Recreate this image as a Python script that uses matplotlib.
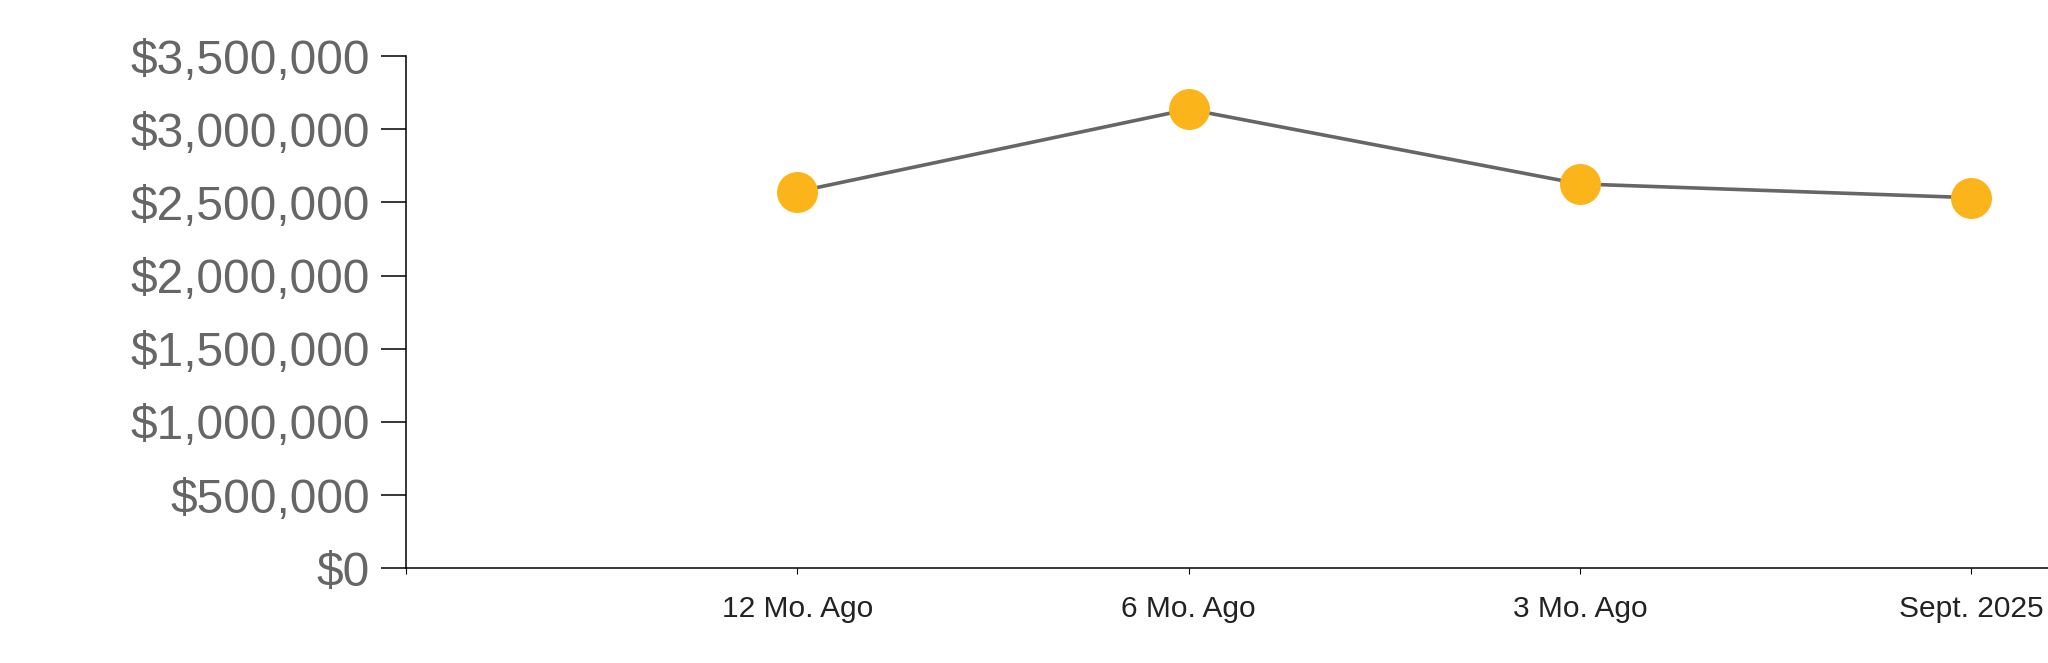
import matplotlib.pyplot as plt
import matplotlib.ticker as ticker

# datos
periodos = ['12 Mo. Ago', '6 Mo. Ago', '3 Mo. Ago', 'Sept. 2025']
valores = [2573000, 3136000, 2626000, 2532000]
ticks_y = [0, 500000, 1000000, 1500000, 2000000, 2500000, 3000000, 3500000]

plt.rcParams['font.family'] = ['Liberation Sans', 'DejaVu Sans']

fig = plt.figure(figsize=(20.48, 6.63), dpi=100)
ax = fig.add_axes([406 / 2048, 1 - 568.3 / 663, 1 - 406 / 2048, (568.3 - 56) / 663])

posiciones = list(range(1, len(periodos) + 1))
ax.plot(posiciones, valores, color='#666666', linewidth=2.6, zorder=2)
ax.plot(posiciones, valores, linestyle='none', marker='o', markersize=29.5,
        markerfacecolor='#FBB41A', markeredgewidth=0, zorder=3)

ax.set_xlim(0, (2048 - 406) / 391.3)
ax.set_ylim(0, 3500000)

# tick vacio en 0 (como en el original)
ax.set_xticks([0] + posiciones)
ax.set_xticklabels([''] + periodos)
ax.set_yticks(ticks_y)
ax.yaxis.set_major_formatter(ticker.FuncFormatter(lambda v, p: f'${v:,.0f}'))

ax.tick_params(axis='y', length=18, width=1.1, pad=8, labelsize=34.5, labelcolor='#666666')
ax.tick_params(axis='x', length=4.5, width=0.8, pad=15, labelsize=21.5, labelcolor='#222222')

for lado in ['top', 'right']:
    ax.spines[lado].set_visible(False)
for lado in ['left', 'bottom']:
    ax.spines[lado].set_linewidth(1.1)
ax.spines['left'].set_bounds(0, 3500000)

fig.savefig('out.png', dpi=100, facecolor='white')
